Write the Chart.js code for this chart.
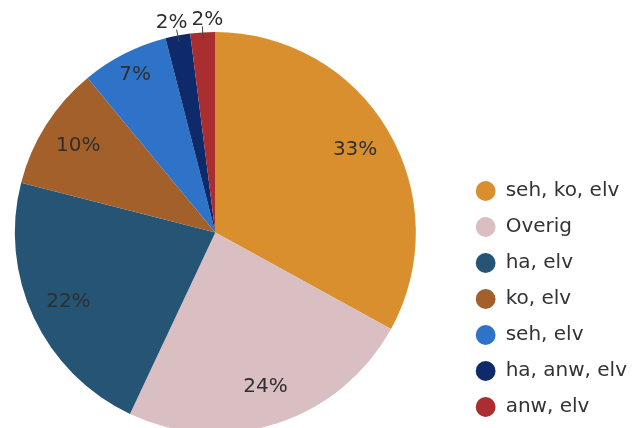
<!DOCTYPE html>
<html>
<head>
<meta charset="utf-8">
<script src="https://cdn.jsdelivr.net/npm/chart.js@4"></script>
<style>
  body { margin: 0; background: #fff; overflow: hidden; }
  canvas { display: block; margin-left: -29px; }
</style>
</head>
<body>
<canvas id="myChart" width="667" height="440"></canvas>
<script>
var categories = ["seh, ko, elv", "Overig", "ha, elv", "ko, elv", "seh, elv", "ha, anw, elv", "anw, elv"];
var shares = [33, 24, 22, 10, 7, 2, 2];
var sliceColors = ["#D98F2E", "#D9BEC2", "#265475", "#A3602A", "#2E73C8", "#0E2A6A", "#AA2D30"];

// percentage labels, inside for big slices, outside with a short leader line for tiny ones
var pctLabels = {
    id: 'pctLabels',
    afterDatasetsDraw: function (chart) {
        var ctx = chart.ctx;
        var arcs = chart.getDatasetMeta(0).data;
        var total = shares.reduce(function (a, b) { return a + b; }, 0);
        var outside = [];
        ctx.save();
        ctx.font = '20px "DejaVu Sans"';
        ctx.fillStyle = '#2f2f2f';
        ctx.textAlign = 'center';
        ctx.textBaseline = 'middle';
        arcs.forEach(function (arc, i) {
            var p = arc.getProps(['x', 'y', 'startAngle', 'endAngle', 'outerRadius'], true);
            var mid = (p.startAngle + p.endAngle) / 2;
            var pct = Math.round(shares[i] / total * 100);
            var txt = pct + '%';
            if (pct < 5) {
                var x1 = p.x + Math.cos(mid) * p.outerRadius * 0.97;
                var y1 = p.y + Math.sin(mid) * p.outerRadius * 0.97;
                var x2 = p.x + Math.cos(mid) * p.outerRadius * 1.03;
                var y2 = p.y + Math.sin(mid) * p.outerRadius * 1.03;
                outside.push({x1: x1, y1: y1, x2: x2, y2: y2, tx: x2, txt: txt, w: ctx.measureText(txt).width});
            } else {
                var f = pct < 8 ? 0.88 : 0.81;
                ctx.fillText(txt, p.x + Math.cos(mid) * p.outerRadius * f, p.y + Math.sin(mid) * p.outerRadius * f);
            }
        });
        // push overlapping outside labels apart
        outside.sort(function (a, b) { return a.tx - b.tx; });
        for (var k = 1; k < outside.length; k++) {
            var a = outside[k - 1], b = outside[k];
            var need = (a.w + b.w) / 2 + 4;
            if (b.tx - a.tx < need) {
                var c = (a.tx + b.tx) / 2;
                a.tx = c - need / 2;
                b.tx = c + need / 2;
            }
        }
        ctx.strokeStyle = '#444';
        ctx.lineWidth = 1;
        ctx.textBaseline = 'bottom';
        outside.forEach(function (o) {
            ctx.beginPath();
            ctx.moveTo(o.x1, o.y1);
            ctx.lineTo(o.x2, o.y2);
            ctx.stroke();
            ctx.fillText(o.txt, o.tx, o.y2 + 3);
        });
        ctx.restore();
    }
};

var ctx = document.getElementById("myChart").getContext('2d');
var myChart = new Chart(ctx, {
    type: 'pie',
    data: {
        labels: categories,
        datasets: [{
            data: shares,
            backgroundColor: sliceColors,
            borderWidth: 0
        }]
    },
    options: {
        responsive: false,
        animation: false,
        layout: {
            padding: {top: 32, bottom: 7, left: 0, right: 1}
        },
        plugins: {
            tooltip: {enabled: false},
            legend: {
                position: 'right',
                align: 'end',
                labels: {
                    usePointStyle: true,
                    pointStyle: 'circle',
                    boxHeight: 14,
                    padding: 16,
                    color: '#333',
                    font: {family: '"DejaVu Sans"', size: 20}
                }
            }
        }
    },
    plugins: [pctLabels]
});
</script>
</body>
</html>
